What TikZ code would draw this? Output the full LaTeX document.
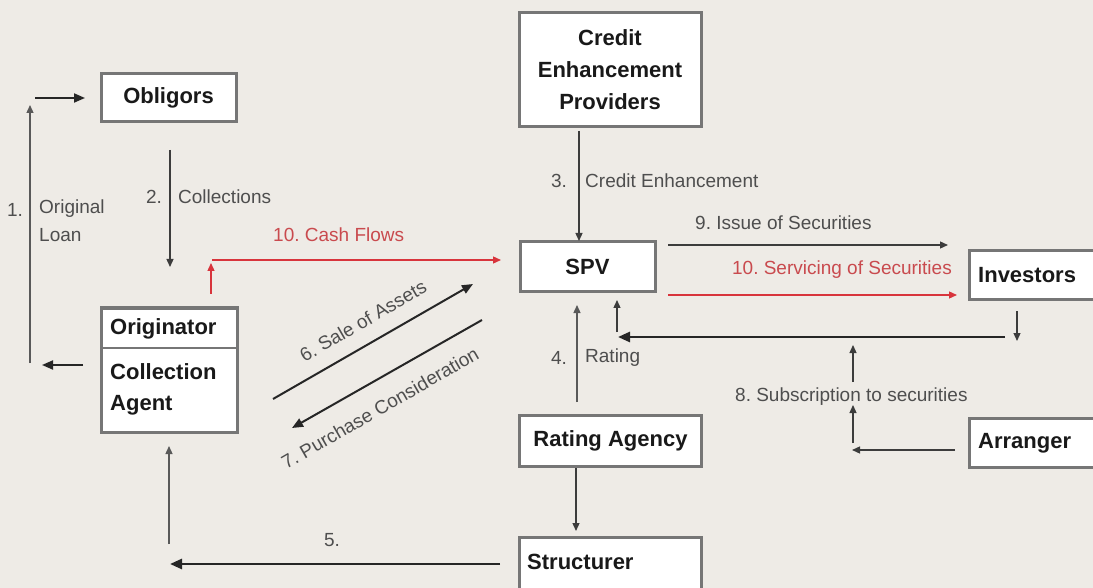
\documentclass[tikz,border=0pt]{standalone}
\usepackage{fontspec}
\setmainfont{Liberation Sans}
\usetikzlibrary{arrows.meta}
\definecolor{bg}{HTML}{EEEBE6}
\definecolor{boxline}{HTML}{767676}
\definecolor{lblc}{HTML}{4E4E4E}
\definecolor{arrc}{HTML}{3C3C3C}
\definecolor{redc}{HTML}{D8343C}
\definecolor{redt}{HTML}{C94A4E}
\frenchspacing
\begin{document}
\frenchspacing
\begin{tikzpicture}[x=1pt,y=-1pt,
  box/.style={draw=boxline,line width=3pt,fill=white,inner sep=0pt},
  boxtxt/.style={font=\fontsize{22}{32}\selectfont\bfseries\frenchspacing,text=black!90,align=center},
  lbl/.style={font=\fontsize{19}{25}\selectfont\frenchspacing,text=lblc,inner sep=0pt},
  redlbl/.style={lbl,text=redt},
  thinarr/.style={draw=arrc,line width=1.3pt,-{Triangle[length=8pt,width=7pt]}},
  medarr/.style={draw=black!85,line width=2pt,-{Triangle[length=11pt,width=9pt]}},
  thickarr/.style={draw=black!85,line width=2.6pt,-{Triangle[length=12pt,width=10pt]}},
  redarr/.style={draw=redc,line width=1.3pt,-{Triangle[length=8pt,width=7pt]}},
]
\fill[bg] (0,0) rectangle (1093,588);
\useasboundingbox (0,0) rectangle (1093,588);

% ---------- boxes ----------
\node[box,boxtxt,minimum width=135pt,minimum height=48pt] (obl) at (168.5,98) {Obligors};
\node[box,boxtxt,minimum width=182pt,minimum height=114pt] (cep) at (610,70) {Credit\\Enhancement\\Providers};
\node[box,boxtxt,minimum width=135pt,minimum height=50pt] (spv) at (587.5,267) {SPV};
\node[box,minimum width=136pt,minimum height=124pt] (orig) at (169,370) {};
\draw[draw=boxline,line width=1.2pt] (101,348) -- (237,348);
\node[boxtxt,anchor=west,inner sep=0pt] (origt) at (110,329) {Originator};
\node[boxtxt,anchor=west,inner sep=0pt] (colt) at (110,372) {Collection};
\node[boxtxt,anchor=west,inner sep=0pt] (agt) at (110,405) {Agent};
\node[box,minimum width=132pt,minimum height=49pt,anchor=west] (inv) at (968,275) {};
\node[boxtxt,anchor=west,inner sep=0pt] (invt) at (978,275) {Investors};
\node[box,minimum width=132pt,minimum height=49pt,anchor=west] (arr) at (968,443) {};
\node[boxtxt,anchor=west,inner sep=0pt] (arrt) at (978,443) {Arranger};
\node[box,boxtxt,minimum width=182pt,minimum height=51pt] (rat) at (610.5,441) {Rating Agency};
\node[box,minimum width=182pt,minimum height=62pt] (str) at (610.5,568.5) {};
\node[boxtxt,anchor=west,inner sep=0pt] (strt) at (527,562) {Structurer};

% ---------- coordinates ----------
\coordinate (a1s) at (83,365);  \coordinate (a1e) at (42,365);
\coordinate (v1s) at (30,363);  \coordinate (v1e) at (30,105);
\coordinate (h1s) at (35,98);   \coordinate (h1e) at (85,98);
\coordinate (c2s) at (170,150); \coordinate (c2e) at (170,267);
\coordinate (r10s) at (211,294); \coordinate (r10e) at (211,263);
\coordinate (r10hs) at (212,260); \coordinate (r10he) at (501,260);
\coordinate (c3s) at (579,131); \coordinate (c3e) at (579,241);
\coordinate (i9s) at (668,245); \coordinate (i9e) at (948,245);
\coordinate (s10s) at (668,295); \coordinate (s10e) at (957,295);
\coordinate (invd) at (1017,341);
\coordinate (bigs) at (1005,337); \coordinate (bige) at (618,337);
\coordinate (ups) at (617,332); \coordinate (upe) at (617,300);
\coordinate (r4e) at (577,305);
\coordinate (s8a) at (853,382); \coordinate (s8b) at (853,345);
\coordinate (s8c) at (853,443); \coordinate (s8d) at (853,405);
\coordinate (s8e) at (955,450); \coordinate (s8f) at (852,450);
\coordinate (rsE) at (576,531);
\coordinate (f5s) at (500,564); \coordinate (f5e) at (170,564);
\coordinate (u5s) at (169,544); \coordinate (u5e) at (169,446);
\coordinate (s6s) at (273,399); \coordinate (s6e) at (473,284);
\coordinate (p7s) at (482,320); \coordinate (p7e) at (292,428);

% ---------- connectors ----------
\draw[medarr] (a1s) -- (a1e);
\draw[thinarr,draw=black!65] (v1s) -- (v1e);
\draw[medarr] (h1s) -- (h1e);
\draw[thinarr] (c2s) -- (c2e);
\draw[redarr] (r10s) -- (r10e);
\draw[redarr] (r10hs) -- (r10he);
\draw[thinarr] (c3s) -- (c3e);
\draw[thinarr] (i9s) -- (i9e);
\draw[redarr] (s10s) -- (s10e);
\draw[thinarr] (inv.south -| invd) ++(0,10) -- (invd);
\draw[thickarr] (bigs) -- (bige);
\draw[thinarr] (ups) -- (upe);
\draw[thinarr,draw=black!65] (rat.north -| r4e) ++(0,-12) -- (r4e);
\draw[thinarr] (s8a) -- (s8b);
\draw[thinarr] (s8c) -- (s8d);
\draw[thinarr] (s8e) -- (s8f);
\draw[thinarr] (rat.south -| rsE) -- (rsE);
\draw[thickarr] (f5s) -- (f5e);
\draw[thinarr,draw=black!65] (u5s) -- (u5e);
\draw[medarr] (s6s) -- (s6e);
\draw[medarr] (p7s) -- (p7e);

% ---------- labels ----------
\node[lbl] (l1n) at (15,210) {1.};
\node[lbl,anchor=west] (l1a) at (39,209) {Original};
\node[lbl,anchor=west] (l1b) at (39,235) {Loan};
\node[lbl] (l2n) at (154,197) {2.};
\node[lbl,anchor=west] (l2) at (178,197) {Collections};
\node[redlbl,anchor=west] (l10a) at (273,235) {10. Cash Flows};
\node[lbl] (l3n) at (559,181) {3.};
\node[lbl,anchor=west] (l3) at (585,181) {Credit Enhancement};
\node[lbl,anchor=west] (l9) at (695,223) {9. Issue of Securities};
\node[redlbl,anchor=east] (l10b) at (952,270) {10. Servicing of Securities};
\node[lbl] (l4n) at (559,358) {4.};
\node[lbl,anchor=west] (l4) at (585,358) {Rating};
\node[lbl,anchor=west] (l8) at (735,397) {8. Subscription to securities};
\node[lbl] (l5) at (332,540) {5.};
\node[lbl,rotate=30] (l6) at (363,321) {6. Sale of Assets};
\node[lbl,rotate=30] (l7) at (380,408) {7. Purchase Consideration};
\end{tikzpicture}
\end{document}
